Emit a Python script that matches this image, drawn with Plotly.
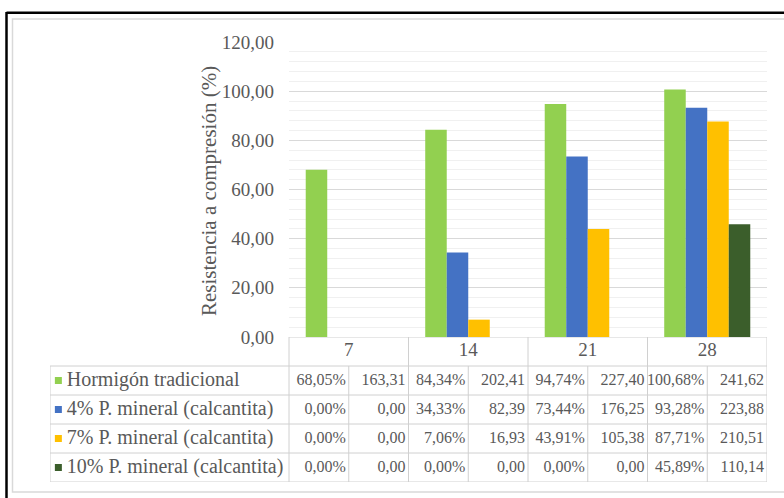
import plotly.graph_objects as go

# ---------------- data ----------------
days = ["7", "14", "21", "28"]
series_names = [
    "Hormigón tradicional",
    "4% P. mineral (calcantita)",
    "7% P. mineral (calcantita)",
    "10% P. mineral (calcantita)",
]
pct_hormigon = [68.05, 84.34, 94.74, 100.68]
pct_4 = [0.00, 34.33, 73.44, 93.28]
pct_7 = [0.00, 7.06, 43.91, 87.71]
pct_10 = [0.00, 0.00, 0.00, 45.89]
res_hormigon = [163.31, 202.41, 227.40, 241.62]
res_4 = [0.00, 82.39, 176.25, 223.88]
res_7 = [0.00, 16.93, 105.38, 210.51]
res_10 = [0.00, 0.00, 0.00, 110.14]
y_ticks = [0, 20, 40, 60, 80, 100, 120]
y_title = "Resistencia a compresión (%)"

colors = ["#92D050", "#4472C4", "#FFC000", "#3B5E2B"]
pct_series = [pct_hormigon, pct_4, pct_7, pct_10]
res_series = [res_hormigon, res_4, res_7, res_10]

# ---------------- layout helpers ----------------
W, H = 784, 498
FONT = "Liberation Serif"
GRAY = "#595959"
LINE = "#D0D0D0"


def fx(p):
    return p / W


def fy(p):
    return 1 - p / H


def fmt(v):
    return f"{v:.2f}".replace(".", ",")


fig = go.Figure()

# bars
for name, vals, col in zip(series_names, pct_series, colors):
    fig.add_trace(go.Bar(x=days, y=vals, name=name, marker_color=col,
                         marker_line_width=0, xaxis="x", yaxis="y",
                         showlegend=False, hoverinfo="skip"))

# ---------------- data table (on its own axes) ----------------
n = len(days)
idx = list(range(n))
PAD = 0.025
# header row
fig.add_trace(go.Scatter(x=idx, y=[0] * n, text=days, mode="text",
                         textposition="middle center", xaxis="x2", yaxis="y2",
                         textfont=dict(family=FONT, size=19, color=GRAY),
                         showlegend=False, hoverinfo="skip", cliponaxis=False))
for r, (name, pv, rv, col) in enumerate(zip(series_names, pct_series, res_series, colors), start=1):
    fig.add_trace(go.Scatter(x=[i - PAD for i in idx], y=[r] * n,
                             text=[fmt(v) + "%" for v in pv], mode="text",
                             textposition="middle left", xaxis="x2", yaxis="y2",
                             textfont=dict(family=FONT, size=16, color=GRAY),
                             showlegend=False, hoverinfo="skip", cliponaxis=False))
    fig.add_trace(go.Scatter(x=[i + 0.5 - PAD for i in idx], y=[r] * n,
                             text=[fmt(v) for v in rv], mode="text",
                             textposition="middle left", xaxis="x2", yaxis="y2",
                             textfont=dict(family=FONT, size=16, color=GRAY),
                             showlegend=False, hoverinfo="skip", cliponaxis=False))
    fig.add_trace(go.Scatter(x=[-2.5 + 0.07], y=[r], mode="markers",
                             marker=dict(symbol="square", size=7, color=col),
                             xaxis="x2", yaxis="y2", showlegend=False,
                             hoverinfo="skip", cliponaxis=False))
    fig.add_trace(go.Scatter(x=[-2.5 + 0.14], y=[r], text=[name], mode="text",
                             textposition="middle right", xaxis="x2", yaxis="y2",
                             textfont=dict(family=FONT, size=20, color=GRAY),
                             showlegend=False, hoverinfo="skip", cliponaxis=False))

shapes = []


def tline(x0, y0, x1, y1):
    shapes.append(dict(type="line", xref="x2", yref="y2", x0=x0, y0=y0, x1=x1, y1=y1,
                       line=dict(color=LINE, width=1)))


nr = len(series_names)
# header row borders
tline(-0.5, -0.5, n - 0.5, -0.5)
for i in range(n + 1):
    tline(i - 0.5, -0.5, i - 0.5, 0.5)
# body horizontal lines
for r in range(nr + 1):
    tline(-2.5, r + 0.5, n - 0.5, r + 0.5)
# body vertical lines
tline(-2.5, 0.5, -2.5, nr + 0.5)
for i in range(n + 1):
    tline(i - 0.5, 0.5, i - 0.5, nr + 0.5)
for i in range(n):
    tline(i, 0.5, i, nr + 0.5)

# frame
shapes.append(dict(type="rect", xref="paper", yref="paper", x0=fx(12.5), x1=fx(800),
                   y0=fy(492), y1=fy(19), line=dict(color="#D9D9D9", width=1.5)))
shapes.append(dict(type="line", xref="paper", yref="paper", x0=fx(6.5), x1=fx(800),
                   y0=fy(12.8), y1=fy(12.8), line=dict(color="black", width=2.5)))
shapes.append(dict(type="line", xref="paper", yref="paper", x0=fx(6.5), x1=fx(6.5),
                   y0=fy(12), y1=fy(510), line=dict(color="black", width=2.5)))

fig.update_layout(
    width=W, height=H, autosize=False,
    margin=dict(l=0, r=0, t=0, b=0, pad=0),
    paper_bgcolor="white", plot_bgcolor="white",
    barmode="group", bargap=0.28, bargroupgap=0,
    shapes=shapes,
    xaxis=dict(domain=[fx(289), fx(767)], type="category", range=[-0.5, n - 0.5],
               showticklabels=False, showgrid=False, zeroline=False, showline=False,
               anchor="y", automargin=False),
    yaxis=dict(domain=[fy(337), fy(42)], range=[0, 120], tickmode="array",
               tickvals=y_ticks, ticktext=[fmt(v) for v in y_ticks],
               tickfont=dict(family=FONT, size=19, color=GRAY),
               showgrid=True, gridcolor="#D9D9D9", gridwidth=1.2, zeroline=False,
               showline=False, ticks="", ticklabelstandoff=14, anchor="x",
               automargin=False,
               minor=dict(tickmode="linear", tick0=0, dtick=4, showgrid=True,
                          gridcolor="#F0F0F0", gridwidth=1)),
    xaxis2=dict(domain=[fx(50), fx(767)], range=[-2.5, n - 0.5], visible=False,
                anchor="y2", automargin=False),
    yaxis2=dict(domain=[fy(482), fy(337)], range=[nr + 0.5, -0.5], visible=False,
                anchor="x2", automargin=False),
    annotations=[dict(text=y_title, xref="paper", yref="paper", x=fx(195), y=fy(191),
                      textangle=-90, showarrow=False,
                      font=dict(family=FONT, size=21, color=GRAY))],
)

fig.write_html("out.html",
               config={"displayModeBar": False, "responsive": False},
               post_script="document.body.style.margin='0';document.body.style.overflow='hidden';")
